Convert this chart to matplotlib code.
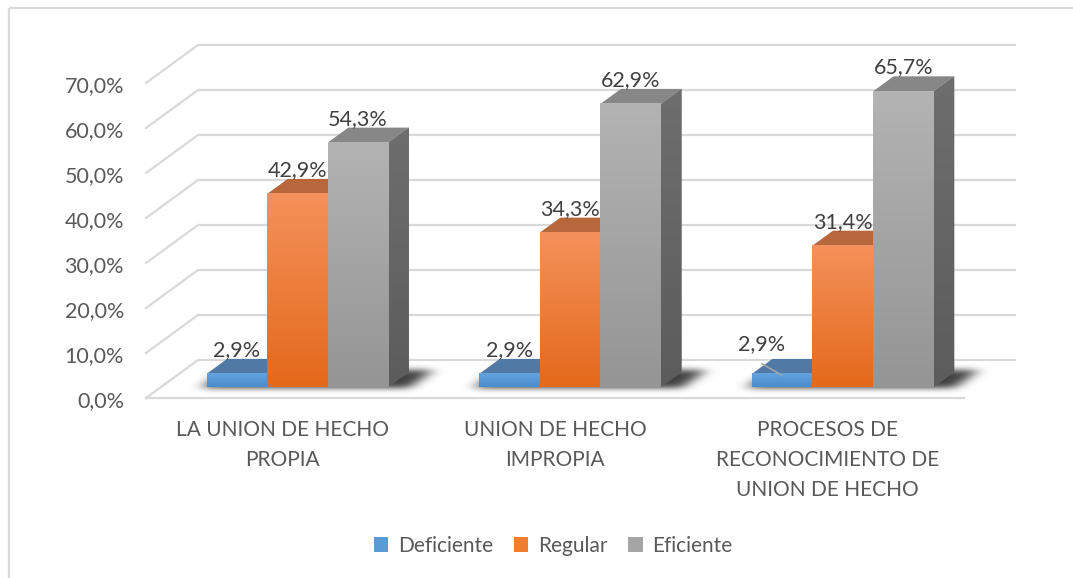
import numpy as np
import matplotlib
matplotlib.use("Agg")
import matplotlib.pyplot as plt
from matplotlib.patches import Polygon, Rectangle, Patch
from matplotlib.colors import LinearSegmentedColormap
from matplotlib.path import Path

# ---------------- data ----------------
categories = ["LA UNION DE HECHO\nPROPIA",
              "UNION DE HECHO\nIMPROPIA",
              "PROCESOS DE\nRECONOCIMIENTO DE\nUNION DE HECHO"]
series_names = ["Deficiente", "Regular", "Eficiente"]
deficiente = [2.9, 2.9, 2.9]
regular = [42.9, 34.3, 31.4]
eficiente = [54.3, 62.9, 65.7]
y_ticks = [0, 10, 20, 30, 40, 50, 60, 70]

series = [deficiente, regular, eficiente]

# ---------------- style ----------------
FONT = "Lato"
FS = 15.5
FS_CAT = 15.0
TXT = "#595959"
LBL = "#404040"
GRID = "#D9D9D9"
front_top = ["#62A3E0", "#F4915A", "#B3B3B3"]
front_bot = ["#4C8BCB", "#E4691B", "#959595"]
top_col = ["#5079A6", "#B8673C", "#878787"]
side_top = ["#3F6C99", "#A35A2F", "#6E6E6E"]
side_bot = ["#355D85", "#8E4D26", "#5C5C5C"]
legend_col = ["#5B9BD5", "#ED7D31", "#A5A5A5"]

W_PX, H_PX = 1073, 578
fig = plt.figure(figsize=(W_PX / 100, H_PX / 100), dpi=100)
ax = fig.add_axes([0, 0, 1, 1])

# oblique 3-D projection (pixel space)
X0, X1 = 146.0, 964.0   # front floor x-range
Y0 = 398.0              # front floor y
S = 4.5                 # px per percent
DX, DY = 52.0, 38.0     # depth offset
ZF, ZB = 0.29, 0.685    # bar front / back depth


def proj(x, v, z):
    return (x + z * DX, Y0 - v * S - z * DY)


ncat = len(categories)
W = (X1 - X0) / ncat
bw = W / 4.5

# outer border
ax.add_patch(Rectangle((9, 8), 1075, 600, fill=False, ec=GRID, lw=1.6, zorder=0))

# walls gridlines
for t in y_ticks:
    xa, ya = proj(X0, t, 1)
    xb, yb = proj(X1, t, 1)
    ax.plot([xa, xb], [ya, yb], color=GRID, lw=1.6, zorder=1, solid_capstyle='butt')
    xc, yc = proj(X0, t, 0)
    ax.plot([xc, xa], [yc, ya], color=GRID, lw=1.6, zorder=1)
    ax.text(124, yc + 9, f"{t:.1f}%".replace(".", ","), ha="right", va="baseline",
            fontsize=FS, color=TXT, family=FONT)
# front floor edge
xa, ya = proj(X0, 0, 0)
xb, yb = proj(X1, 0, 0)
ax.plot([xa, xb], [ya, yb], color=GRID, lw=1.6, zorder=1)

# shadows (blurred footprint)
yy, xx = np.mgrid[0:H_PX, 0:W_PX]
pts = np.column_stack([xx.ravel() + 0.5, yy.ravel() + 0.5])
mask = np.zeros(H_PX * W_PX)
for i in range(ncat):
    gl = X0 + W * i + 0.75 * bw
    gr = gl + 3 * bw
    poly = [proj(gl - 4, 0, ZF - 0.02), proj(gr + 22, 0, ZF - 0.02),
            proj(gr + 22, 0, ZB + 0.05), proj(gl - 4, 0, ZB + 0.05)]
    mask = np.maximum(mask, Path(poly).contains_points(pts).astype(float))
mask = mask.reshape(H_PX, W_PX)


def blur(a, sig, axis):
    r = int(3 * sig)
    k = np.exp(-0.5 * (np.arange(-r, r + 1) / sig) ** 2)
    k /= k.sum()
    return np.apply_along_axis(lambda m: np.convolve(m, k, mode="same"), axis, a)


sh = blur(blur(mask, 7, 1), 3, 0)
rgba = np.zeros((H_PX, W_PX, 4))
rgba[..., 3] = np.clip(sh * 0.75, 0, 1)
ax.imshow(rgba, extent=[0, W_PX, H_PX, 0], origin="upper", zorder=2,
          interpolation="bilinear", aspect="auto")

# bars
z = 3
for i in range(ncat):
    gl = X0 + W * i + 0.75 * bw
    for k, vals in enumerate(series):
        v = vals[i]
        xl = gl + k * bw
        xr = xl + bw
        # side face
        side = [proj(xr, 0, ZF), proj(xr, v, ZF), proj(xr, v, ZB), proj(xr, 0, ZB)]
        sp = Polygon(side, closed=True, fc=side_top[k], ec="none", zorder=z)
        ax.add_patch(sp)
        cm_s = LinearSegmentedColormap.from_list("s", [side_top[k], side_bot[k]])
        im = ax.imshow(np.linspace(0, 1, 64).reshape(-1, 1), cmap=cm_s,
                       extent=[side[0][0], side[2][0], side[0][1], side[2][1]],
                       origin="upper", aspect="auto", zorder=z, interpolation="bilinear")
        im.set_clip_path(sp)
        # top face
        top = [proj(xl, v, ZF), proj(xr, v, ZF), proj(xr, v, ZB), proj(xl, v, ZB)]
        ax.add_patch(Polygon(top, closed=True, fc=top_col[k], ec="none", zorder=z))
        # front face (gradient)
        fx0, fy0 = proj(xl, 0, ZF)
        fx1, fy1 = proj(xr, v, ZF)
        cm_f = LinearSegmentedColormap.from_list("f", [front_top[k], front_bot[k]])
        ax.imshow(np.linspace(0, 1, 64).reshape(-1, 1), cmap=cm_f,
                  extent=[fx0, fx1, fy0, fy1], origin="upper", aspect="auto",
                  zorder=z + 0.5, interpolation="bilinear")
        z += 1
        # data label
        lx = (fx0 + fx1) / 2
        ly = proj(xl, v, ZB)[1] - 3
        txt = f"{v:.1f}%".replace(".", ",")
        if i == 2 and k == 0:
            ax.plot([lx - 20, lx - 1], [ly + 8, ly + 19], color="#A6A6A6", lw=1.2, zorder=50)
            ax.text(lx - 21, ly - 6, txt, ha="center", va="baseline", fontsize=FS,
                    color=LBL, family=FONT, zorder=51)
        else:
            ax.text(lx, ly, txt, ha="center", va="baseline", fontsize=FS,
                    color=LBL, family=FONT, zorder=51)

# category labels
for i, c in enumerate(categories):
    cx = X0 + W * (i + 0.5)
    for j, line in enumerate(c.split("\n")):
        ax.text(cx, 436 + 30 * j, line, ha="center", va="baseline", fontsize=FS_CAT,
                color=TXT, family=FONT)

# legend
handles = [Patch(fc=legend_col[k], ec="none", label=series_names[k]) for k in range(3)]
leg = ax.legend(handles=handles, loc="center", bbox_to_anchor=(553 / W_PX, 1 - 546 / H_PX),
                ncol=3, frameon=False, handlelength=0.7, handleheight=0.7,
                handletextpad=0.45, columnspacing=1.0,
                prop={"family": FONT, "size": 15.0})
for t in leg.get_texts():
    t.set_color(TXT)

ax.set_xlim(0, W_PX)
ax.set_ylim(H_PX, 0)
ax.axis("off")
fig.savefig("out.png", dpi=100, facecolor="white")
